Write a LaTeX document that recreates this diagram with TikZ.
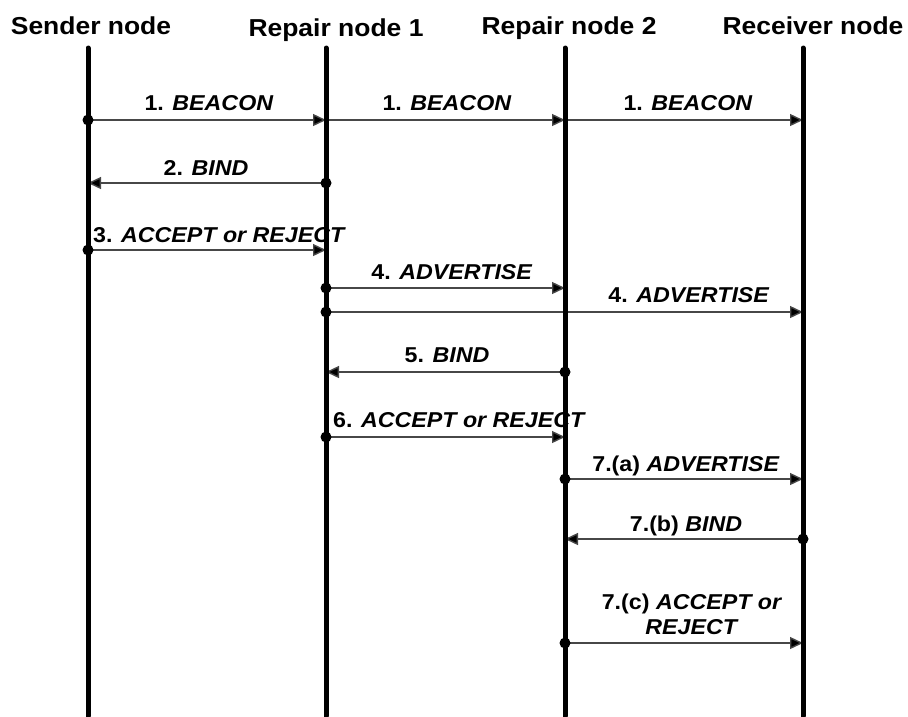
\documentclass[tikz,border=0pt]{standalone}
\usepackage{fontspec}
\setmainfont[FakeStretch=1.08]{Liberation Sans}
\usetikzlibrary{arrows.meta}
\begin{document}
\begin{tikzpicture}[x=1pt,y=-1pt,
  lifeline/.style={line width=5pt,line cap=round},
  msg/.style={line width=1.4pt,draw=black!72,-{Triangle[length=13pt,width=12pt,fill=black]}},
  dotstart/.style={fill=black,draw=none},
  hdr/.style={anchor=base,inner sep=0pt,font=\fontsize{24.5}{28}\selectfont\bfseries},
  lbl/.style={anchor=base,inner sep=0pt,font=\fontsize{21.5}{25}\selectfont\bfseries},
  lblw/.style={lbl,anchor=base west}]
\useasboundingbox (0,0) rectangle (908,716);
% headers
\node[hdr] (hS) at (91,34) {Sender node};
\node[hdr] (hR1) at (336,36) {Repair node 1};
\node[hdr] (hR2) at (569,34) {Repair node 2};
\node[hdr] (hRc) at (813,34) {Receiver node};
% lifeline ends
\coordinate (Stop) at (88,48);  \coordinate (Sbot) at (88,716);
\coordinate (Atop) at (326,48); \coordinate (Abot) at (326,716);
\coordinate (Btop) at (565,48); \coordinate (Bbot) at (565,716);
\coordinate (Ctop) at (803,48); \coordinate (Cbot) at (803,716);
% message end points
\foreach \n/\y in {1/120,2/183,3/250,4/288,5/312,6/372,7/437,8/479,9/539,10/643}{
  \coordinate (S\n) at (88,\y);
  \coordinate (A\n) at (326,\y);
  \coordinate (B\n) at (565,\y);
  \coordinate (C\n) at (803,\y);
}
% messages
\draw[msg] (S1) -- (A1);
\draw[msg] (A1) -- (B1);
\draw[msg] (B1) -- (C1);
\draw[msg] (A2) -- (S2);
\draw[msg] (S3) -- (A3);
\draw[msg] (A4) -- (B4);
\draw[msg] (A5) -- (C5);
\draw[msg] (B6) -- (A6);
\draw[msg] (A7) -- (B7);
\draw[msg] (B8) -- (C8);
\draw[msg] (C9) -- (B9);
\draw[msg] (B10) -- (C10);
% lifelines
\draw[lifeline] (Stop) -- (Sbot);
\draw[lifeline] (Atop) -- (Abot);
\draw[lifeline] (Btop) -- (Bbot);
\draw[lifeline] (Ctop) -- (Cbot);
% start dots
\foreach \p in {S1,A2,S3,A4,A5,B6,A7,B8,C9,B10}{
  \fill[dotstart] (\p) circle (5.5pt);
}
% labels
\node[lbl] (l1a) at (209,110) {1. \textit{BEACON}};
\node[lbl] (l1b) at (447,110) {1. \textit{BEACON}};
\node[lbl] (l1c) at (688,110) {1. \textit{BEACON}};
\node[lbl] (l2) at (206,175) {2. \textit{BIND}};
\node[lblw] (l3) at (93,242) {3. \textit{ACCEPT or REJECT}};
\node[lbl] (l4a) at (452,279) {4. \textit{ADVERTISE}};
\node[lbl] (l4b) at (689,302) {4. \textit{ADVERTISE}};
\node[lbl] (l5) at (447,362) {5. \textit{BIND}};
\node[lblw] (l6) at (333,427) {6. \textit{ACCEPT or REJECT}};
\node[lbl] (l7a) at (686,471) {7.(a) \textit{ADVERTISE}};
\node[lbl] (l7b) at (686,531) {7.(b) \textit{BIND}};
\node[lbl] (l7c1) at (692,609) {7.(c) \textit{ACCEPT or}};
\node[lbl] (l7c2) at (692,634) {\textit{REJECT}};
\end{tikzpicture}
\end{document}
